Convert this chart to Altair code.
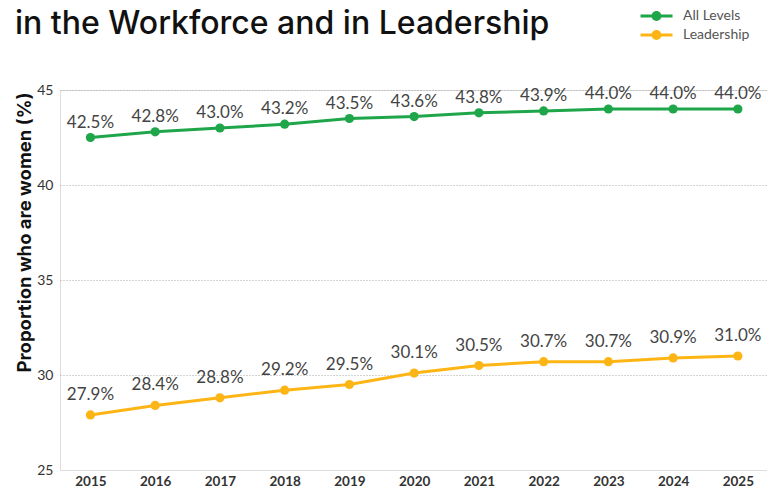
import altair as alt
import pandas as pd

years = list(range(2015, 2026))
all_levels = [42.5, 42.8, 43.0, 43.2, 43.5, 43.6, 43.8, 43.9, 44.0, 44.0, 44.0]
leadership = [27.9, 28.4, 28.8, 29.2, 29.5, 30.1, 30.5, 30.7, 30.7, 30.9, 31.0]
series_names = ["All Levels", "Leadership"]
series_colors = ["#1fa64a", "#fdb515"]
y_ticks = [25, 30, 35, 40, 45]
title_text = "in the Workforce and in Leadership"
y_title = "Proportion who are women (%)"

df = pd.DataFrame({
    "year": years * 2,
    "value": all_levels + leadership,
    "series": [series_names[0]] * len(years) + [series_names[1]] * len(years),
})

legend_symbol = (
    "M -2 -0.19 L 2 -0.19 L 2 0.19 L -2 0.19 Z "
    "M -0.62 0 A 0.62 0.62 0 1 1 0.62 0 A 0.62 0.62 0 1 1 -0.62 0 Z"
)

x_enc = alt.X(
    "year:Q",
    scale=alt.Scale(domain=[2014.53, 2025.45], nice=False, zero=False),
    axis=alt.Axis(
        values=years, format="d", grid=False, domain=False, ticks=False,
        labelPadding=4, labelFlush=False, labelOverlap=False, title=None,
        labelFontSize=13.5, labelFont="Lato", labelFontWeight="bold", labelColor="#333",
    ),
)
y_enc = alt.Y(
    "value:Q",
    scale=alt.Scale(domain=[25, 45], nice=False, zero=False),
    axis=alt.Axis(
        values=y_ticks, grid=True, gridDash=[1, 2], gridColor="#a8a8a8", gridWidth=1,
        gridOpacity={"condition": {"test": "datum.value == 25", "value": 0}, "value": 1},
        domain=False, ticks=False, labelPadding=7,
        labelFontSize=14, labelFont="Lato", labelColor="#333",
        title=y_title, titleFont="Inter", titleFontSize=18.5, titleFontWeight="bold",
        titleColor="#111", titleX=-36, titleY=142, titleAngle=-90,
        titleAlign="center", titleBaseline="middle",
    ),
)

base = alt.Chart(df)

# line colours come from a data-driven scale so its legend stays separate (and hidden)
lines = base.mark_line(strokeWidth=3).encode(
    x=x_enc, y=y_enc,
    stroke=alt.Stroke("series:N", scale=alt.Scale(range=series_colors), legend=None),
)
points = base.mark_point(filled=True, size=85, opacity=1).encode(
    x=x_enc, y=y_enc,
    color=alt.Color(
        "series:N", scale=alt.Scale(domain=series_names, range=series_colors),
        legend=alt.Legend(
            title=None, orient="none", legendX=588.5, legendY=-82,
            symbolType=legend_symbol, symbolSize=256, symbolStrokeWidth=0,
            symbolOpacity=1, labelFontSize=14, labelFont="Lato", labelColor="#555",
            labelOffset=18.5, rowPadding=4, padding=0,
        ),
    ),
)
lbl = base.transform_calculate(label="format(datum.value, '.1f') + '%'")
labels_all = lbl.transform_filter(alt.datum.series == series_names[0]).mark_text(
    dy=-15, fontSize=17, font="Lato", color="#444"
).encode(x=x_enc, y=y_enc, text="label:N")
labels_lead = lbl.transform_filter(alt.datum.series == series_names[1]).mark_text(
    dy=-20, fontSize=17, font="Lato", color="#444"
).encode(x=x_enc, y=y_enc, text="label:N")

chart = (
    alt.layer(lines, points, labels_all, labels_lead)
    .properties(
        width=707, height=380,
        autosize=alt.AutoSizeParams(type="none"),
        padding={"left": 52, "top": 82, "right": 0, "bottom": 24},
        title=alt.TitleParams(
            title_text, anchor="start", frame="group", fontSize=32, font="Inter",
            fontWeight=500, color="#111", dx=-45, dy=37,
        ),
    )
    .configure_view(stroke=None)
    .configure(background="white")
)

chart.save("out.html", embed_options={"renderer": "svg", "actions": False})
